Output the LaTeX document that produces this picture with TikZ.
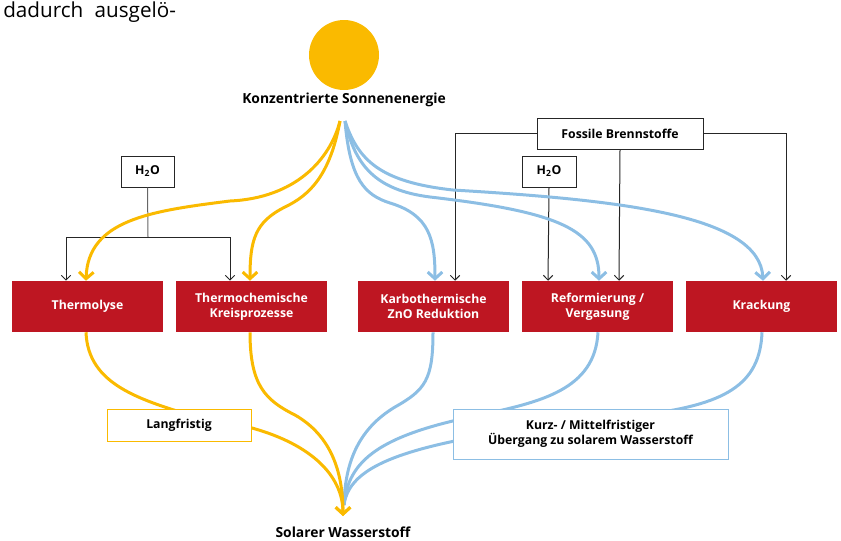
\documentclass[tikz,border=0pt]{standalone}
\usepackage{fontspec}
\setmainfont{Open Sans}
\usetikzlibrary{arrows.meta,calc}
\definecolor{sunY}{RGB}{250,186,0}
\definecolor{skyB}{RGB}{140,190,228}
\definecolor{boxR}{RGB}{190,22,34}
\begin{document}
\begin{tikzpicture}[x=0.75pt,y=-0.75pt,
  redbox/.style={fill=boxR, text=white, font=\bfseries\fontsize{9.2}{11.25}\selectfont, minimum width=113.25pt, minimum height=38.25pt, align=center, inner sep=0pt},
  whitebox/.style={draw=black!85, line width=0.75pt, fill=white, font=\bfseries\fontsize{9.2}{10}\selectfont, inner sep=0pt, align=center},
  lbl/.style={font=\bfseries\fontsize{10.4}{12}\selectfont, inner sep=0pt},
  ycurve/.style={draw=sunY, line width=2.25pt},
  bcurve/.style={draw=skyB, line width=2.25pt},
  bigtip/.style={-{Straight Barb[length=5pt,width=11pt]}},
  wire/.style={line width=0.75pt, draw=black!85},
  thintip/.style={-{Straight Barb[length=3.5pt,width=7pt]}}]
\useasboundingbox (0,0) rectangle (841,540);

\node[anchor=base west, font=\fontsize{15.5}{18}\selectfont, inner sep=0pt] (intro) at (3,17) {dadurch\hspace{0.55em}ausgelö-};

\node[fill=sunY, circle, minimum size=52.5pt, inner sep=0pt] (sun) at (344,55) {};
\node[lbl] (conc) at (344,100) {Konzentrierte Sonnenenergie};
\node[lbl] (solar) at (343,532) {Solarer Wasserstoff};

\coordinate (srcY) at (340,121);
\coordinate (srcB) at (345,121);
\coordinate (sink) at (343,516);
\coordinate (sinkB) at (344,505);

\node[redbox] (thermo) at (87.5,306.5) {Thermolyse};
\node[redbox] (tchem) at (251.5,306.5) {Thermochemische\\Kreisprozesse};
\node[redbox] (karbo) at (433.5,306.5) {Karbothermische\\ZnO Reduktion};
\node[redbox] (reform) at (597.5,306.5) {Reformierung /\\Vergasung};
\node[redbox] (krack) at (761.5,306.5) {Krackung};

\node[whitebox, minimum width=39.75pt, minimum height=23.25pt] (h2oL) at (147.5,171.5) {H\textsubscript{2}O};
\node[whitebox, minimum width=40.5pt, minimum height=23.25pt] (h2oR) at (549,171.5) {H\textsubscript{2}O};
\node[whitebox, minimum width=124.5pt, minimum height=23.25pt] (fossil) at (620,133.5) {Fossile Brennstoffe};

% thin supply lines
\coordinate (jL) at (148,237);
\draw[wire, draw=black!60] (h2oL.south) -- (jL);
\draw[wire, thintip] (jL) -| ($(thermo.north)+(-21.5,0)$);
\draw[wire, thintip] (jL) -| ($(tchem.north)+(-21.5,0)$);
\draw[wire, thintip] (fossil.west) -| ($(karbo.north)+(21.5,0)$);
\draw[wire, thintip] (fossil.east) -| ($(krack.north)+(24.5,0)$);
\draw[wire, thintip] (fossil.south) -- ($(reform.north)+(21.5,0)$);
\draw[wire, thintip] (h2oR.south) -- ($(reform.north)+(-49.5,0)$);

% top curves
\draw[ycurve, bigtip] (srcY) .. controls (330,160) and (295,198) .. (230,201) .. controls (150,211) and (88,220) .. ($(thermo.north)+(-1.5,0)$);
\draw[ycurve, bigtip] (srcY) .. controls (330,175) and (310,195) .. (285,207) .. controls (255,222) and (250,240) .. ($(tchem.north)+(-1.5,0)$);
\draw[bcurve, bigtip] (srcB) .. controls (350,180) and (365,195) .. (390,203) .. controls (430,215) and (435,240) .. ($(karbo.north)+(1.5,0)$);
\draw[bcurve, bigtip] (srcB) .. controls (355,165) and (375,190) .. (430,197) .. controls (560,212) and (599,230) .. ($(reform.north)+(1.5,0)$);
\draw[bcurve, bigtip] (srcB) .. controls (358,160) and (380,182) .. (453,190) .. controls (620,200) and (760,215) .. ($(krack.north)+(1.5,0)$);

% bottom curves
\draw[bcurve] ($(karbo.south)+(-0.5,0)$) .. controls (433,380) and (425,390) .. (395,407) .. controls (360,428) and (345,460) .. (sinkB);
\draw[bcurve] ($(reform.south)+(0.5,0)$) .. controls (595,390) and (540,402) .. (480,415) .. controls (380,435) and (348,460) .. (sinkB);
\draw[bcurve] ($(krack.south)+(0.5,0)$) .. controls (760,385) and (725,405) .. (640,415) .. controls (420,438) and (350,460) .. (sinkB);
\draw[ycurve, bigtip] ($(thermo.south)+(-1.5,0)$) .. controls (88,385) and (140,400) .. (200,418) .. controls (300,430) and (343,470) .. (sink);
\draw[ycurve, bigtip] ($(tchem.south)+(-1.5,0)$) .. controls (250,385) and (265,400) .. (295,415) .. controls (330,435) and (343,470) .. (sink);

\node[whitebox, draw=sunY, minimum width=108pt, minimum height=24pt] (lang) at (179,425) {Langfristig};
\node[whitebox, draw=skyB, minimum width=206.25pt, minimum height=37.5pt] (kurz) at (590.5,434) {Kurz- / Mittelfristiger\\Übergang zu solarem Wasserstoff};
\end{tikzpicture}
\end{document}
